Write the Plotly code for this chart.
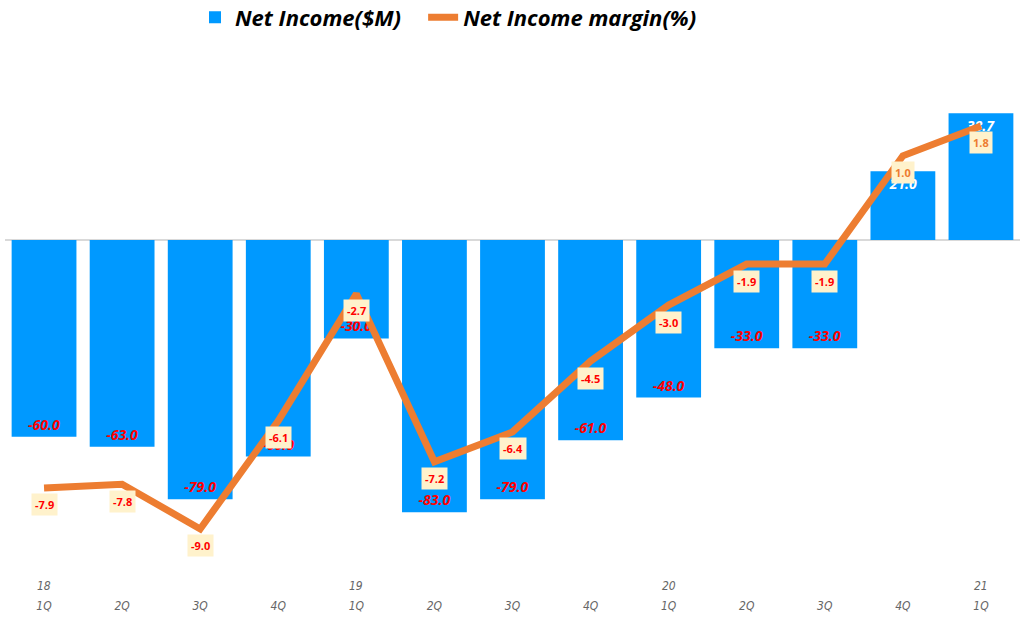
import plotly.graph_objects as go

categories = ["18 1Q", "2Q", "3Q", "4Q", "19 1Q", "2Q ", "3Q ", "4Q ", "20 1Q", "2Q  ", "3Q  ", "4Q  ", "21 1Q"]
quarter_labels = ["1Q", "2Q", "3Q", "4Q", "1Q", "2Q", "3Q", "4Q", "1Q", "2Q", "3Q", "4Q", "1Q"]
year_labels = ["18", "", "", "", "19", "", "", "", "20", "", "", "", "21"]
net_income = [-60.0, -63.0, -79.0, -66.0, -30.0, -83.0, -79.0, -61.0, -48.0, -33.0, -33.0, 21.0, 38.7]
margin_pct = [-7.9, -7.8, -9.0, -6.1, -2.7, -7.2, -6.4, -4.5, -3.0, -1.9, -1.9, 1.0, 1.8]

BLUE = "#0099FF"
ORANGE = "#ED7D31"
TICK_FONT = dict(family="DejaVu Sans Condensed", size=12, color="#666666", style="italic")

bar_text_colors = ["#FF0000" if v < 0 else "#FFFFFF" for v in net_income]

fig = go.Figure()
fig.add_trace(go.Bar(
    x=categories, y=net_income, name="Net Income($M)\u00a0\u00a0\u00a0",
    marker=dict(color=BLUE, line=dict(width=0)),
    width=0.83,
    text=[f"{v:.1f}" for v in net_income],
    textposition="inside", insidetextanchor="end", textangle=0,
    constraintext="none",
    insidetextfont=dict(family="Open Sans", size=14, color=bar_text_colors, style="italic", weight="bold"),
    yaxis="y",
))
fig.add_trace(go.Scatter(
    x=categories, y=margin_pct, name="Net Income margin(%)",
    mode="lines", line=dict(color=ORANGE, width=7),
    yaxis="y2",
))

for c, v in zip(categories, margin_pct):
    fig.add_annotation(
        x=c, y=v, xref="x", yref="y2", yshift=-17,
        text=f"<b>{v:.1f}</b>", showarrow=False,
        font=dict(family="Open Sans", size=11, color="#FF0000" if v < 0 else ORANGE),
        bgcolor="#FFF2CC", borderpad=3,
    )

for c, yl in zip(categories, year_labels):
    if yl:
        fig.add_annotation(
            x=c, y=0, xref="x", yref="paper", yanchor="middle", yshift=-16,
            text=yl, showarrow=False, font=TICK_FONT,
        )

fig.update_layout(
    width=1024, height=627,
    margin=dict(l=5, r=4, t=45, b=57, autoexpand=False),
    plot_bgcolor="white", paper_bgcolor="white",
    showlegend=True,
    legend=dict(orientation="h", xref="container", x=195 / 1024, xanchor="left",
                yref="container", y=0.972, yanchor="middle",
                font=dict(family="Open Sans", size=22, color="#000000", style="italic", weight="bold"),
                itemwidth=30, traceorder="normal"),
    xaxis=dict(tickmode="array", tickvals=categories, ticktext=quarter_labels, showgrid=False,
               showline=False, ticks="", automargin=False, ticklabelstandoff=27,
               tickfont=TICK_FONT),
    yaxis=dict(range=[-100.6, 59.5], showgrid=False, showticklabels=False, zeroline=True,
               zerolinecolor="#D9D9D9", zerolinewidth=2, automargin=False),
    yaxis2=dict(range=[-10.1, 3.97], overlaying="y", side="right", showgrid=False,
                showticklabels=False, zeroline=False, automargin=False),
)

fig.write_html("out.html", config={"displayModeBar": False},
               post_script="document.body.style.margin='0';")
